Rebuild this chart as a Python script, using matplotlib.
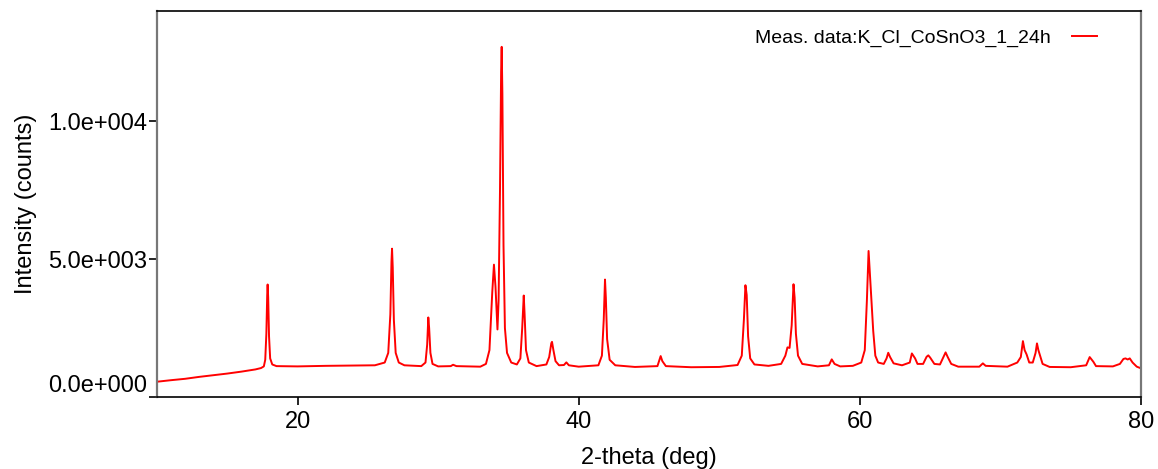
import matplotlib
matplotlib.use("Agg")
import matplotlib.pyplot as plt
from matplotlib.ticker import FuncFormatter

plt.rcParams['font.family'] = ['Liberation Sans', 'DejaVu Sans']

# Trace points (2-theta in deg, intensity in counts)
two_theta = [
    10.0, 11.0, 12.0, 13.0, 14.0, 15.0, 16.0, 17.0, 17.4, 17.6, 17.7, 17.78, 17.84, 17.87, 17.91, 17.97, 18.05, 18.2, 18.5,
    20.0, 22.0, 24.0, 25.5, 26.2, 26.45, 26.6, 26.68, 26.72, 26.77, 26.85, 26.98, 27.2, 27.6,
    28.8, 29.1, 29.22, 29.3, 29.36, 29.45, 29.6, 30.0, 30.9, 31.06, 31.3, 33.0,
    33.4, 33.65, 33.85, 33.97, 34.08, 34.22, 34.3, 34.4, 34.48, 34.52, 34.57, 34.65, 34.75, 34.9, 35.2, 35.6,
    35.85, 35.98, 36.09, 36.15, 36.25, 36.45, 37.0, 37.7, 37.9, 38.05, 38.1, 38.2, 38.35, 38.6, 38.95, 39.12, 39.3,
    40.0, 41.4, 41.65, 41.78, 41.87, 41.93, 42.02, 42.2, 42.6, 44.0, 45.6, 45.75, 45.83, 45.95, 46.2,
    48.0, 50.0, 51.3, 51.6, 51.75, 51.86, 51.95, 52.05, 52.2, 52.5, 53.5, 54.4, 54.7, 54.85, 55.0,
    55.15, 55.28, 55.36, 55.45, 55.6, 55.9, 57.0, 57.8, 58.0, 58.2, 58.6, 59.5, 60.1, 60.35, 60.5,
    60.62, 60.72, 60.82, 60.95, 61.1, 61.3, 61.7, 61.9, 62.02, 62.15, 62.4, 63.0, 63.55, 63.7, 63.8,
    63.93, 64.1, 64.5, 64.75, 64.87, 65.0, 65.3, 65.7, 65.95, 66.1, 66.25, 66.5, 67.0, 68.5, 68.75,
    68.95, 70.5, 71.2, 71.45, 71.6, 71.72, 71.86, 72.05, 72.3, 72.5, 72.6, 72.7, 72.81, 73.0, 73.5,
    75.0, 76.1, 76.35, 76.5, 76.61, 76.8, 78.0, 78.5, 78.75, 78.9, 79.05, 79.2, 79.4, 79.7, 80.0,
]
counts = [
    554, 610, 660, 730, 790, 850, 920, 1000, 1050, 1110, 1350, 2300, 3700, 4080, 3600, 2200, 1400, 1180, 1120,
    1110, 1130, 1140, 1150, 1250, 1600, 3000, 4900, 5380, 4700, 2800, 1600, 1250, 1150,
    1120, 1250, 1900, 2885, 2500, 1600, 1200, 1110, 1120, 1170, 1120, 1100,
    1200, 1700, 3800, 4800, 4000, 2450, 3500, 7500, 11800, 12700, 11000, 5500, 2500, 1600, 1250, 1180,
    1400, 2500, 3680, 3000, 1700, 1250, 1120, 1180, 1450, 1950, 2000, 1700, 1300, 1150, 1160, 1256, 1150,
    1100, 1150, 1500, 2800, 4260, 3600, 2100, 1350, 1150, 1090, 1120, 1350, 1484, 1300, 1120,
    1080, 1090, 1160, 1500, 2800, 4054, 3700, 2200, 1400, 1180, 1130, 1200, 1500, 1800, 1780,
    2600, 4090, 3600, 2300, 1500, 1200, 1110, 1150, 1365, 1200, 1110, 1130, 1250, 1700, 3500,
    5296, 4400, 3537, 2400, 1500, 1250, 1200, 1400, 1604, 1450, 1220, 1150, 1250, 1580, 1500,
    1400, 1200, 1200, 1460, 1510, 1430, 1200, 1180, 1450, 1618, 1450, 1200, 1100, 1100, 1220,
    1130, 1100, 1250, 1450, 2027, 1700, 1546, 1250, 1250, 1600, 1944, 1700, 1520, 1200, 1090,
    1080, 1150, 1448, 1350, 1278, 1120, 1110, 1200, 1380, 1400, 1360, 1400, 1250, 1100, 1040,
]
x_ticks = [20, 40, 60, 80]
y_ticks = [0, 5000, 10000]
legend_label = "Meas. data:K_Cl_CoSnO3_1_24h"


def sci_fmt(v, pos=None):
    if v == 0:
        return "0.0e+000"
    s = f"{v:.1e}"
    mant, exp = s.split("e")
    e = int(exp)
    sign = "+" if e >= 0 else "-"
    return f"{mant}e{sign}{abs(e):03d}"


fig = plt.figure(figsize=(11.58, 4.69), dpi=100)
ax = fig.add_axes([157 / 1158, 1 - 397 / 469, (1141 - 157) / 1158, (397 - 11) / 469])

ax.plot(two_theta, counts, color='#ff0000', linewidth=1.4, label=legend_label)

ax.set_xlim(10, 80)
ax.set_ylim(0, 14000)
ax.set_xticks(x_ticks)
ax.set_yticks(y_ticks)
ax.yaxis.set_major_formatter(FuncFormatter(sci_fmt))
ax.tick_params(axis='both', direction='out', length=6, width=1.2, labelsize=17, colors='black')
ax.tick_params(axis='y', pad=1)
ax.tick_params(axis='x', pad=4)

for side in ['left', 'right']:
    ax.spines[side].set_color('#777777')
    ax.spines[side].set_linewidth(1.6)
for side in ['top', 'bottom']:
    ax.spines[side].set_color('black')
    ax.spines[side].set_linewidth(1.2)

ax.set_xlabel("2-theta (deg)", fontsize=17, labelpad=10)
ax.set_ylabel("Intensity (counts)", fontsize=17, labelpad=8)

fig.canvas.draw()
lbls = ax.get_yticklabels()
if lbls:
    lbls[0].set_verticalalignment('bottom')

ax.legend(loc='upper right', bbox_to_anchor=((1097 - 157) / 984, 1 - (29 - 11) / 386),
          frameon=False, markerfirst=False, fontsize=14, handlelength=1.3,
          handletextpad=1.1, borderpad=0, borderaxespad=0)

fig.savefig("out.png", dpi=100)
